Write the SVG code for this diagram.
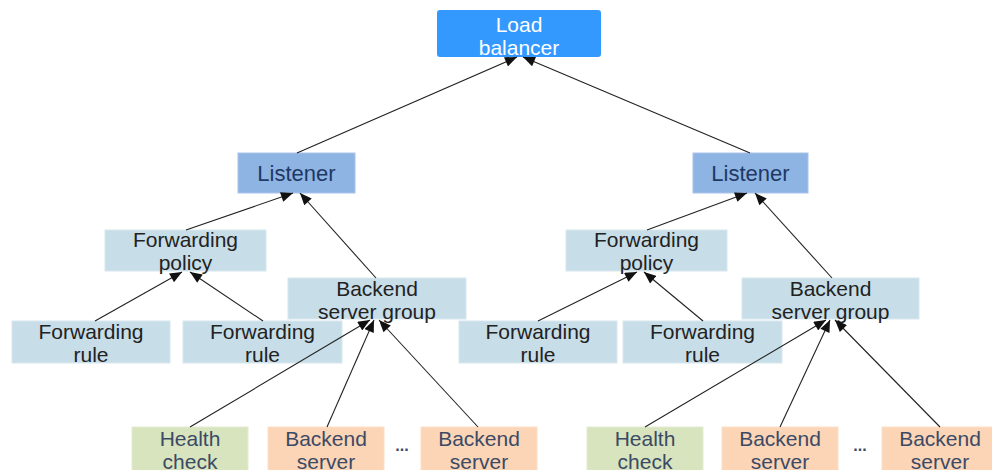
<svg xmlns="http://www.w3.org/2000/svg" width="992" height="470" viewBox="0 0 992 470">
<defs>
<marker id="ah" viewBox="0 0 12 10" refX="12" refY="5" markerWidth="13" markerHeight="10" markerUnits="userSpaceOnUse" orient="auto">
<path d="M0,0 L12,5 L0,10 z" fill="#111"/>
</marker>
<style>
text{font-family:"Liberation Sans",Arial,sans-serif;font-size:21px;text-anchor:middle}
.lb{fill:#3399ff}
.ls{fill:#8eb4e3;stroke:#a9c4ea;stroke-width:1}
.lt{fill:#c7dde8;stroke:#d9e7ee;stroke-width:1}
.hc{fill:#d7e4bd;stroke:#e3ecd3;stroke-width:1}
.bs{fill:#fbd5b5;stroke:#fbe0c9;stroke-width:1}
.wt{fill:#ffffff}
.bt{fill:#1f3864;font-size:22px}
.kt{fill:#222222}
.gt{fill:#3b4a66}
.dt{fill:#3b4a66;font-size:16px;font-weight:bold}
.c line{stroke:#222;stroke-width:1.1;marker-end:url(#ah)}
</style>
</defs>
<rect width="992" height="470" fill="#ffffff"/>

<g id="loadbalancer">
<rect class="lb" x="437" y="10" width="164" height="47" rx="3"/>
<text class="wt" x="519" y="32">Load</text>
<text class="wt" x="519" y="55">balancer</text>
</g>

<g id="listener1">
<rect class="ls" x="238" y="153" width="117" height="40"/>
<text class="bt" x="296.5" y="181">Listener</text>
</g>
<g id="listener2">
<rect class="ls" x="693" y="153" width="115" height="40"/>
<text class="bt" x="750.5" y="181">Listener</text>
</g>

<g id="fpolicy1">
<rect class="lt" x="105" y="230" width="161" height="41"/>
<text class="kt" x="185.5" y="247">Forwarding</text>
<text class="kt" x="185.5" y="270">policy</text>
</g>
<g id="fpolicy2">
<rect class="lt" x="566" y="230" width="161" height="41"/>
<text class="kt" x="646.5" y="247">Forwarding</text>
<text class="kt" x="646.5" y="270">policy</text>
</g>

<g id="bsg1">
<rect class="lt" x="288" y="278" width="178" height="41"/>
<text class="kt" x="377" y="296">Backend</text>
<text class="kt" x="377" y="319">server group</text>
</g>
<g id="bsg2">
<rect class="lt" x="742" y="278" width="177" height="41"/>
<text class="kt" x="830.5" y="296">Backend</text>
<text class="kt" x="830.5" y="319">server group</text>
</g>

<g id="frule1">
<rect class="lt" x="12" y="321" width="158" height="42"/>
<text class="kt" x="91" y="339">Forwarding</text>
<text class="kt" x="91" y="362">rule</text>
</g>
<g id="frule2">
<rect class="lt" x="183" y="321" width="159" height="42"/>
<text class="kt" x="262.5" y="339">Forwarding</text>
<text class="kt" x="262.5" y="362">rule</text>
</g>
<g id="frule3">
<rect class="lt" x="459" y="321" width="158" height="42"/>
<text class="kt" x="538" y="339">Forwarding</text>
<text class="kt" x="538" y="362">rule</text>
</g>
<g id="frule4">
<rect class="lt" x="623" y="321" width="159" height="42"/>
<text class="kt" x="702.5" y="339">Forwarding</text>
<text class="kt" x="702.5" y="362">rule</text>
</g>

<g id="health1">
<rect class="hc" x="132" y="427" width="116" height="50"/>
<text class="gt" x="190" y="446">Health</text>
<text class="gt" x="190" y="469">check</text>
</g>
<g id="server1">
<rect class="bs" x="268" y="427" width="116" height="50"/>
<text class="gt" x="326" y="446">Backend</text>
<text class="gt" x="326" y="469">server</text>
</g>
<g id="dots1"><text class="dt" x="402" y="451">...</text></g>
<g id="server2">
<rect class="bs" x="421" y="427" width="116" height="50"/>
<text class="gt" x="479" y="446">Backend</text>
<text class="gt" x="479" y="469">server</text>
</g>

<g id="health2">
<rect class="hc" x="587" y="427" width="116" height="50"/>
<text class="gt" x="645" y="446">Health</text>
<text class="gt" x="645" y="469">check</text>
</g>
<g id="server3">
<rect class="bs" x="722" y="427" width="116" height="50"/>
<text class="gt" x="780" y="446">Backend</text>
<text class="gt" x="780" y="469">server</text>
</g>
<g id="dots2"><text class="dt" x="860" y="451">...</text></g>
<g id="server4">
<rect class="bs" x="882" y="427" width="116" height="50"/>
<text class="gt" x="940" y="446">Backend</text>
<text class="gt" x="940" y="469">server</text>
</g>

<g id="connectors" class="c">
<line x1="297" y1="153" x2="517" y2="57"/>
<line x1="750" y1="153" x2="523" y2="57"/>
<line x1="186" y1="230" x2="293" y2="193"/>
<line x1="376" y1="278" x2="300" y2="193"/>
<line x1="647" y1="230" x2="747" y2="193"/>
<line x1="832" y1="278" x2="755" y2="193"/>
<line x1="95" y1="321" x2="182" y2="272"/>
<line x1="263" y1="321" x2="190" y2="272"/>
<line x1="538" y1="321" x2="637" y2="272"/>
<line x1="703" y1="321" x2="644" y2="272"/>
<line x1="190" y1="427" x2="370" y2="320"/>
<line x1="327" y1="427" x2="374" y2="320"/>
<line x1="478" y1="427" x2="379" y2="320"/>
<line x1="645" y1="427" x2="826" y2="320"/>
<line x1="780" y1="427" x2="830" y2="320"/>
<line x1="940" y1="427" x2="835" y2="320"/>
</g>
</svg>
